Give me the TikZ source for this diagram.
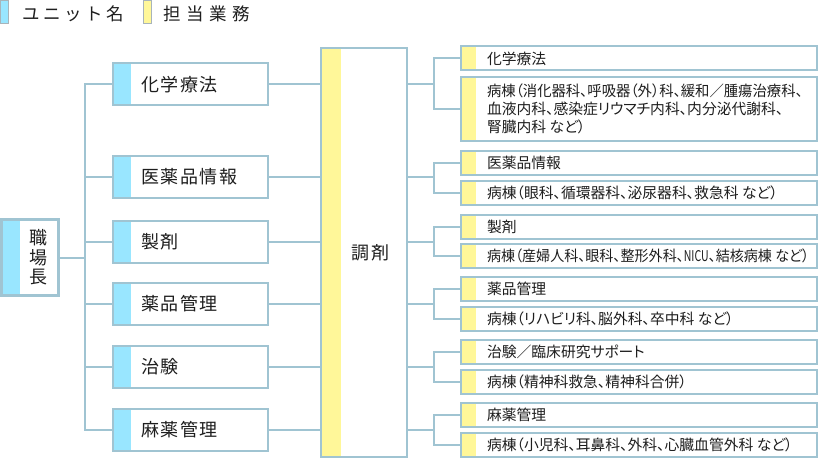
\documentclass[tikz,border=0pt]{standalone}
\usepackage{graphicx}
\usepackage{fontspec}
\setmainfont{Noto Sans CJK JP}[RawFeature={+palt}]
\newfontfamily\legA{Noto Sans CJK JP}[LetterSpace=21]
\newfontfamily\legB{Noto Sans CJK JP}[LetterSpace=32]
\newfontfamily\unitfont{Noto Sans CJK JP}[LetterSpace=9]
\definecolor{linec}{HTML}{A0C4D2}
\definecolor{unitc}{HTML}{99E6FF}
\definecolor{taskc}{HTML}{FFF799}
\definecolor{txt}{HTML}{1E1E1E}
\definecolor{markc}{HTML}{A8B4BA}
\hbadness=10000 \hfuzz=200pt
\newcommand{\gapsp}{\kern3.5pt\relax}
\tikzset{
  stripfill/.style 2 args={path picture={\fill[#1] (path picture bounding box.south west) rectangle ([xshift=#2]path picture bounding box.north west);}},
  box/.style={draw=linec, line width=2pt, fill=white, rectangle, inner sep=0pt, text=txt},
  unitbox/.style={box, stripfill={unitc}{18}, minimum width=155, minimum height=42,
    inner xsep=28pt, text width=99pt, align=left, font=\unitfont\fontsize{18}{22}\selectfont},
  taskbox/.style={box, stripfill={taskc}{15}, minimum width=356, minimum height=24,
    inner xsep=26pt, inner ysep=1pt, text width=304pt, align=left, font=\fontsize{14.8}{18}\selectfont},
  conn/.style={draw=linec, line width=2pt},
  legmark/.style={rectangle, draw=markc, line width=0.8pt, minimum width=8, minimum height=23, inner sep=0pt},
  legtext/.style={anchor=west, inner sep=0pt, text=txt}
}
\begin{document}
\begin{tikzpicture}[x=1pt, y=-1pt]
\useasboundingbox (0,0) rectangle (820,460);

% legend
\node[legmark, fill=unitc] (lm1) at (4.5,12) {};
\node[legtext, font=\legA\fontsize{17.5}{20}\selectfont] (lt1) at (22,14) {ユニット名};
\node[legmark, fill=taskc] (lm2) at (147.5,12) {};
\node[legtext, font=\legB\fontsize{17.5}{20}\selectfont] (lt2) at (163,14) {担当業務};

% head
\node[box, line width=3pt, stripfill={unitc}{18.5}, minimum width=57, minimum height=76,
  align=center, font=\fontsize{18}{19.5}\selectfont] (boss) at (30,257.5)
  {\hspace*{17pt}職\\\hspace*{17pt}場\\\hspace*{17pt}長};

% units
\node[unitbox] (u1) at (190.5,84.5) {化学療法};
\node[unitbox] (u2) at (190.5,177) {医薬品情報};
\node[unitbox] (u3) at (190.5,241.5) {製剤};
\node[unitbox] (u4) at (190.5,303.5) {薬品管理};
\node[unitbox] (u5) at (190.5,366.5) {治験};
\node[unitbox] (u6) at (190.5,429.5) {麻薬管理};

% dispensing
\node[box, stripfill={taskc}{20}, minimum width=86, minimum height=409,
  font=\unitfont\fontsize{18}{22}\selectfont] (chozai) at (364,252.5) {\hspace*{13pt}調剤};

% tasks
\node[taskbox] (t1a) at (639,58.5) {化学療法};
\node[taskbox, minimum height=64] (t1b) at (639,109)
  {\scalebox{0.97}[1]{病棟（消化器科、呼吸器（外）科、緩和／腫瘍治療科、}\\血液内科、感染症リウマチ内科、内分泌代謝科、\\腎臓内科\gapsp など）};
\node[taskbox] (t2a) at (639,163) {医薬品情報};
\node[taskbox] (t2b) at (639,192.5) {病棟（眼科、循環器科、泌尿器科、救急科\gapsp など）};
\node[taskbox] (t3a) at (639,226.5) {製剤};
\node[taskbox] (t3b) at (639,255.5) {\scalebox{0.95}[1]{病棟（産婦人科、眼科、整形外科、\scalebox{0.75}[1]{NICU}、結核病棟\gapsp など）}};
\node[taskbox] (t4a) at (639,289) {薬品管理};
\node[taskbox] (t4b) at (639,319) {病棟（リハビリ科、脳外科、卒中科\gapsp など）};
\node[taskbox] (t5a) at (639,352) {治験／臨床研究サポート};
\node[taskbox] (t5b) at (639,382) {病棟（精神科救急、精神科合併）};
\node[taskbox] (t6a) at (639,415) {麻薬管理};
\node[taskbox] (t6b) at (639,444.5) {病棟（小児科、耳鼻科、外科、心臓血管外科\gapsp など）};

% connectors
\coordinate (tx) at (85,0);
\coordinate (mx) at (434,0);
\draw[conn] (boss.east) -- (boss.east -| tx);
\draw[conn] (u1.west) -| (tx |- u6.west) -- (u6.west);
\foreach \u in {u2,u3,u4,u5} \draw[conn] (\u.west) -- (\u.west -| tx);
\foreach \u in {u1,u2,u3,u4,u5,u6} \draw[conn] (\u.east) -- (\u.east -| chozai.west);
\foreach \u/\a/\b in {u1/t1a/t1b, u2/t2a/t2b, u3/t3a/t3b, u4/t4a/t4b, u5/t5a/t5b, u6/t6a/t6b} {
  \draw[conn] (chozai.east |- \u.east) -- (mx |- \u.east);
  \draw[conn] (\a.west) -| (mx |- \b.west) -- (\b.west);
}
\end{tikzpicture}
\end{document}
